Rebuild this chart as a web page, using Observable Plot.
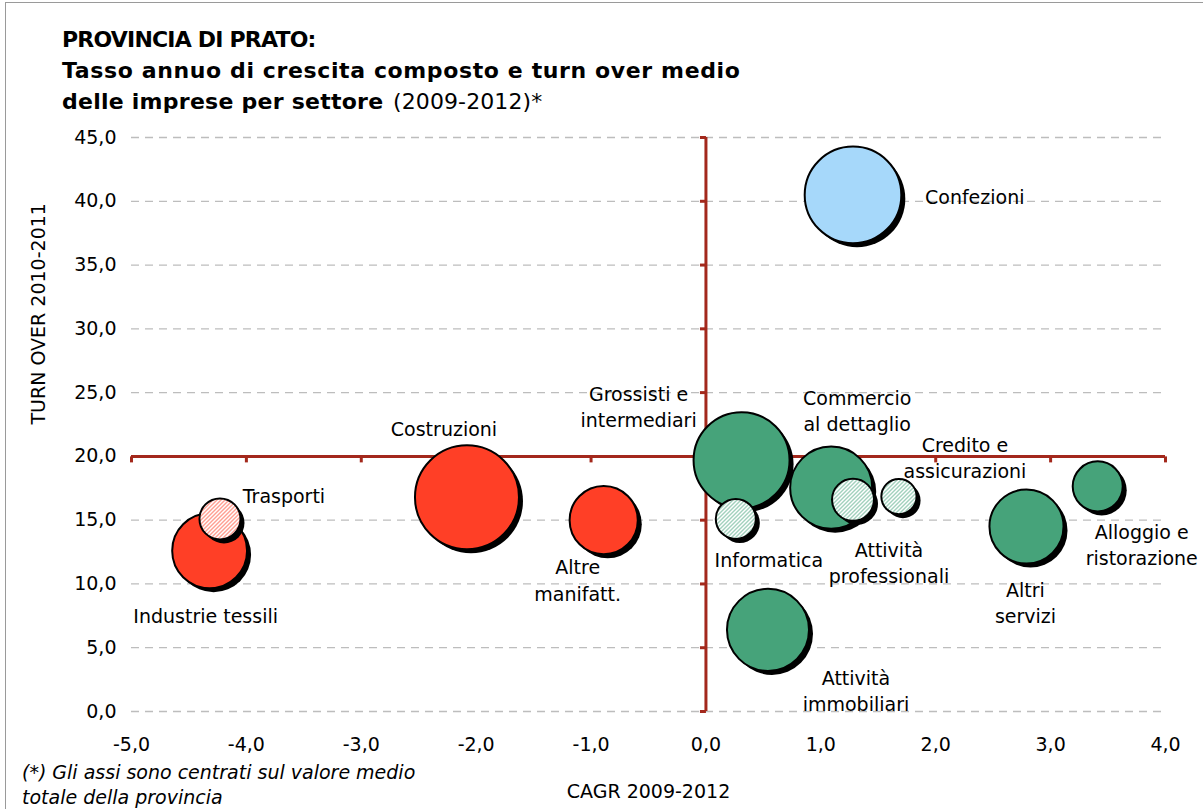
<!DOCTYPE html>
<html><head><meta charset="utf-8">
<script src="https://cdn.jsdelivr.net/npm/d3@7"></script>
<script src="https://cdn.jsdelivr.net/npm/@observablehq/plot@0.6"></script>
<style>
html,body{margin:0;padding:0;background:#fff;}
#wrap{position:relative;width:1203px;height:809px;overflow:hidden;font-family:"DejaVu Sans",sans-serif;color:#000;}
#chart{position:absolute;left:0;top:0;}
#frame{position:absolute;left:5px;top:2px;width:1300px;height:900px;border-left:1px solid #9a9a9a;border-top:1px solid #9a9a9a;pointer-events:none;}
#title{position:absolute;left:62px;top:24px;font-size:22px;line-height:31px;font-weight:bold;white-space:nowrap;}
#title .l1{letter-spacing:-0.8px;}
#title .l2{letter-spacing:0.62px;}
#title .l3{letter-spacing:0.25px;}
#title .n{font-weight:normal;letter-spacing:0.1px;margin-left:2px;}
#note{position:absolute;left:22px;top:760px;font-size:19px;line-height:25px;font-style:italic;white-space:nowrap;}
</style></head>
<body>
<div id="wrap">
  <div id="chart"></div>
  <div id="frame"></div>
  <div id="title"><span class="l1">PROVINCIA DI PRATO:</span><br><span class="l2">Tasso annuo di crescita composto e turn over medio</span><br><span class="l3">delle imprese per settore</span> <span class="n">(2009-2012)*</span></div>
  <div id="note">(*) Gli assi sono centrati sul valore medio<br>totale della provincia</div>
</div>
<script>
// ---- data ----
const settori = ["Confezioni", "Industrie tessili", "Trasporti", "Costruzioni", "Altre manifatt.",
  "Grossisti e intermediari", "Informatica", "Commercio al dettaglio", "Attività professionali",
  "Credito e assicurazioni", "Altri servizi", "Alloggio e ristorazione", "Attività immobiliari"];
const etichette = ["Confezioni", "Industrie tessili", "Trasporti", "Costruzioni", "Altre\nmanifatt.",
  "Grossisti e\nintermediari", "Informatica", "Commercio\nal dettaglio", "Attività\nprofessionali",
  "Credito e\nassicurazioni", "Altri\nservizi", "Alloggio e\nristorazione", "Attività\nimmobiliari"];
const cagr = [1.28, -4.32, -4.23, -2.08, -0.89, 0.31, 0.26, 1.09, 1.28, 1.68, 2.79, 3.41, 0.54];
const turnover = [40.5, 12.6, 15.1, 16.8, 15.0, 19.7, 15.1, 17.55, 16.6, 16.85, 14.5, 17.65, 6.4];
const dimensione = [2330, 1400, 420, 2700, 1160, 2300, 400, 1680, 440, 310, 1370, 625, 1680];
const gruppo = ["confezioni", "industria", "industria-tratteggio", "industria", "industria",
  "servizi", "servizi-tratteggio", "servizi", "servizi-tratteggio",
  "servizi-tratteggio", "servizi", "servizi", "servizi"];
const xTicks = [-5, -4, -3, -2, -1, 0, 1, 2, 3, 4];
const yTicks = [0, 5, 10, 15, 20, 25, 30, 35, 40, 45];
const mediaCagr = 0;
const mediaTurnover = 20;

const data = settori.map((s, i) => ({settore: s, etichetta: etichette[i], cagr: cagr[i],
  turnover: turnover[i], dim: dimensione[i], gruppo: gruppo[i]}));

// ---- styles ----
const RED = "#a3281c";
const fillByGroup = {
  "confezioni": "#a6d8fa",
  "industria": "#ff3f26",
  "servizi": "#46a37a",
  "industria-tratteggio": "url(#hatch-red)",
  "servizi-tratteggio": "url(#hatch-green)"
};
const labelPos = {
  "Confezioni": {dx: 72, dy: 1, anchor: "start"},
  "Industrie tessili": {dx: -4, dy: 64},
  "Trasporti": {dx: 64, dy: -24},
  "Costruzioni": {dx: -23, dy: -70},
  "Altre manifatt.": {dx: -26, dy: 59},
  "Grossisti e intermediari": {dx: -103, dy: -55},
  "Informatica": {dx: 33, dy: 40},
  "Commercio al dettaglio": {dx: 26, dy: -78},
  "Attività professionali": {dx: 36, dy: 62},
  "Credito e assicurazioni": {dx: 66, dy: -40},
  "Altri servizi": {dx: -1, dy: 75},
  "Alloggio e ristorazione": {dx: 44, dy: 57},
  "Attività immobiliari": {dx: 88, dy: 60}
};

const fmt = d => d.toFixed(1).replace(".", ",");
const tickDown = {draw(ctx) { ctx.moveTo(0, 0); ctx.lineTo(0, 6); }};
const tickLeft = {draw(ctx) { ctx.moveTo(0, 0); ctx.lineTo(-6, 0); }};

const defs = () => {
  const g = d3.create("svg:defs");
  for (const [id, c] of [["hatch-red", "#ff3f26"], ["hatch-green", "#46a37a"]]) {
    const p = g.append("pattern").attr("id", id).attr("patternUnits", "userSpaceOnUse")
      .attr("width", 4).attr("height", 4);
    p.append("rect").attr("width", 4).attr("height", 4).attr("fill", "#fff");
    p.append("path").attr("d", "M-1,1l2,-2M0,4l4,-4M3,5l2,-2").attr("stroke", c).attr("stroke-width", 1);
  }
  return g.node();
};

const solid = data.filter(d => !d.gruppo.endsWith("tratteggio"));
const hatched = data.filter(d => d.gruppo.endsWith("tratteggio"));
const bubbles = (arr) => [
  Plot.dot(arr, {x: "cagr", y: "turnover", r: "dim", fill: "#000", dx: 4, dy: 4}),
  Plot.dot(arr, {x: "cagr", y: "turnover", r: "dim", fill: d => fillByGroup[d.gruppo], stroke: "#000", strokeWidth: 2})
];

const chart = Plot.plot({
  width: 1203, height: 809,
  marginLeft: 131, marginRight: 38, marginTop: 137, marginBottom: 98,
  style: {fontFamily: "DejaVu Sans", fontSize: "19px", background: "transparent", color: "#000"},
  x: {domain: [-5, 4]},
  y: {domain: [0, 45]},
  r: {domain: [0, 2700], range: [0, 52]},
  color: {type: "identity"},
  marks: [
    defs,
    Plot.ruleY(yTicks, {x1: -5, x2: 4, stroke: "#bdbdbd", strokeWidth: 1.3, strokeDasharray: "8,6"}),
    Plot.axisY(yTicks, {tickSize: 0, tickPadding: 15, tickFormat: fmt, label: null}),
    Plot.axisX(xTicks, {tickSize: 0, tickPadding: 26, tickFormat: fmt, label: null}),
    Plot.ruleY([mediaTurnover], {x1: -5, x2: 4, stroke: RED, strokeWidth: 3}),
    Plot.ruleX([mediaCagr], {y1: 0, y2: 45, stroke: RED, strokeWidth: 3}),
    Plot.dot(xTicks, {x: d => d, y: mediaTurnover, symbol: tickDown, stroke: RED, strokeWidth: 3, fill: "none"}),
    Plot.dot(yTicks, {x: mediaCagr, y: d => d, symbol: tickLeft, stroke: RED, strokeWidth: 3, fill: "none"}),
    ...bubbles(solid),
    ...bubbles(hatched),
    ...data.map(d => {
      const p = labelPos[d.settore];
      return Plot.text([d], {x: "cagr", y: "turnover", text: "etichetta", dx: p.dx, dy: p.dy,
        textAnchor: p.anchor || "middle", lineHeight: 1.37, fontSize: 19, fill: "#000"});
    }),
    Plot.text(["TURN OVER 2010-2011"], {frameAnchor: "left", rotate: -90, dx: -93, fontSize: 19, fill: "#000"}),
    Plot.text(["CAGR 2009-2012"], {frameAnchor: "bottom", dy: 86, fontSize: 19, fill: "#000"})
  ]
});
document.getElementById("chart").appendChild(chart);
</script>
</body></html>
